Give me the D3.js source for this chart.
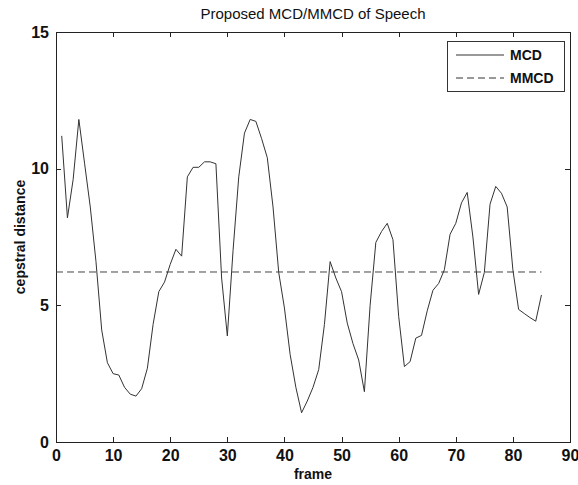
<!DOCTYPE html>
<html lang="en">
<head>
  <meta charset="UTF-8">
  <title>Proposed MCD/MMCD of Speech</title>
  <script src="https://cdn.jsdelivr.net/npm/d3@7"></script>
  <style>
    body { margin: 0; background: #fff; }
    text { font-family: "Liberation Sans", Arial, sans-serif; fill: #111; }
    .axis path, .axis line { stroke: #222; stroke-width: 1px; shape-rendering: crispEdges; }
    .axis text { font-size: 16px; font-weight: bold; fill: #111; }
  </style>
</head>
<body>
  <svg width="578" height="485"></svg>
  <script>
    // frame numbers 1..85 and the per-frame cepstral distance
    var frames = d3.range(1, 86);
    var mcd = [
      11.2, 8.2, 9.6, 11.8, 10.2, 8.6, 6.6, 4.1, 2.9, 2.5,
      2.45, 2.0, 1.75, 1.68, 1.95, 2.7, 4.3, 5.5, 5.85, 6.5,
      7.05, 6.8, 9.7, 10.05, 10.05, 10.25, 10.25, 10.18, 6.0, 3.88,
      7.0, 9.7, 11.3, 11.8, 11.73, 11.1, 10.4, 8.6, 6.2, 4.9,
      3.2, 2.0, 1.07, 1.5, 2.0, 2.65, 4.3, 6.6, 6.0, 5.5,
      4.35, 3.6, 3.0, 1.84, 5.0, 7.3, 7.7, 8.0, 7.4, 4.6,
      2.76, 2.94, 3.8, 3.9, 4.8, 5.55, 5.8, 6.3, 7.6, 8.0,
      8.75, 9.13, 7.5, 5.4, 6.2, 8.7, 9.35, 9.1, 8.6, 6.3,
      4.85, 4.7, 4.55, 4.42, 5.38
    ];
    var mmcdValue = 6.22;
    var mmcdFrames = [0, 85];

    var xTicks = [0, 10, 20, 30, 40, 50, 60, 70, 80, 90];
    var yTicks = [0, 5, 10, 15];

    var svg = d3.select("svg"),
        margin = {top: 32, right: 8, bottom: 43, left: 56},
        width = +svg.attr("width") - margin.left - margin.right,
        height = +svg.attr("height") - margin.top - margin.bottom;

    var g = svg.append("g")
        .attr("transform", "translate(" + margin.left + "," + margin.top + ")");

    var x = d3.scaleLinear().domain([0, 90]).range([0, width]);
    var y = d3.scaleLinear().domain([0, 15]).range([height, 0]);

    // box with inward ticks on all sides
    g.append("g").attr("class", "axis")
        .attr("transform", "translate(0," + height + ")")
        .call(d3.axisBottom(x).tickValues(xTicks).tickSizeInner(-5).tickSizeOuter(0).tickPadding(8));
    g.append("g").attr("class", "axis")
        .call(d3.axisTop(x).tickValues(xTicks).tickSizeInner(-5).tickSizeOuter(0).tickFormat(""));
    g.append("g").attr("class", "axis")
        .call(d3.axisLeft(y).tickValues(yTicks).tickSizeInner(-5).tickSizeOuter(0).tickPadding(7));
    g.append("g").attr("class", "axis")
        .attr("transform", "translate(" + width + ",0)")
        .call(d3.axisRight(y).tickValues(yTicks).tickSizeInner(-5).tickSizeOuter(0).tickFormat(""));

    var line = d3.line()
        .x(function(d) { return x(d[0]); })
        .y(function(d) { return y(d[1]); });

    // MMCD dashed
    g.append("path")
        .datum(mmcdFrames.map(function(f) { return [f, mmcdValue]; }))
        .attr("fill", "none")
        .attr("stroke", "#444")
        .attr("stroke-width", 1)
        .attr("stroke-dasharray", "7,4")
        .attr("d", line);

    // MCD solid
    g.append("path")
        .datum(frames.map(function(f, i) { return [f, mcd[i]]; }))
        .attr("fill", "none")
        .attr("stroke", "#333")
        .attr("stroke-width", 1)
        .attr("d", line);

    // title and labels
    svg.append("text")
        .attr("x", margin.left + width / 2)
        .attr("y", 19)
        .attr("text-anchor", "middle")
        .style("font-size", "15px")
        .text("Proposed MCD/MMCD of Speech");

    svg.append("text")
        .attr("x", margin.left + width / 2)
        .attr("y", 479)
        .attr("text-anchor", "middle")
        .style("font-size", "14px")
        .style("font-weight", "bold")
        .text("frame");

    svg.append("text")
        .attr("transform", "translate(25," + (margin.top + height / 2) + ") rotate(-90)")
        .attr("text-anchor", "middle")
        .style("font-size", "14px")
        .style("font-weight", "bold")
        .text("cepstral distance");

    // legend
    var legend = svg.append("g").attr("transform", "translate(447,41)");
    legend.append("rect")
        .attr("width", 117).attr("height", 50)
        .attr("fill", "#fff").attr("stroke", "#333").attr("stroke-width", 1)
        .attr("shape-rendering", "crispEdges");
    var items = [["MCD", null], ["MMCD", "7,4"]];
    items.forEach(function(it, i) {
      var yy = 14 + i * 23;
      legend.append("line")
          .attr("x1", 9).attr("x2", 57).attr("y1", yy).attr("y2", yy)
          .attr("stroke", "#333").attr("stroke-width", 1)
          .attr("stroke-dasharray", it[1]);
      legend.append("text")
          .attr("x", 63).attr("y", yy + 5)
          .style("font-size", "14px")
          .style("font-weight", "bold")
          .text(it[0]);
    });
  </script>
</body>
</html>
